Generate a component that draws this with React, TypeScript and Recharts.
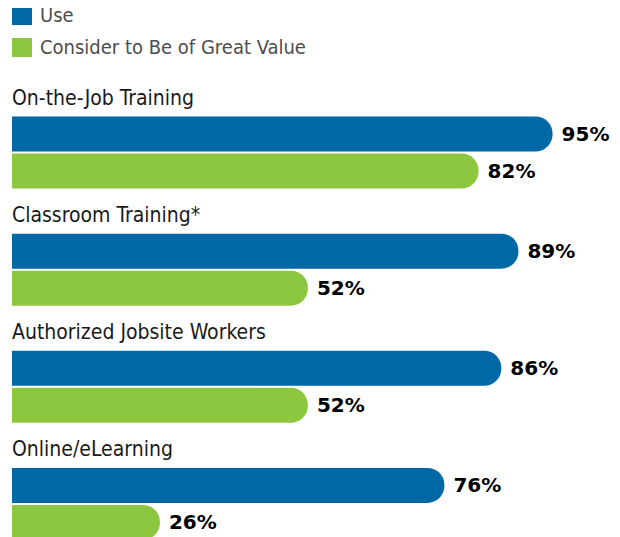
import { BarChart, Bar, XAxis, YAxis, LabelList } from 'recharts'

const categories = ['On-the-Job Training', 'Classroom Training*', 'Authorized Jobsite Workers', 'Online/eLearning']
const useValues = [95, 89, 86, 76]
const valueValues = [82, 52, 52, 26]
const seriesNames = ['Use', 'Consider to Be of Great Value']

const BLUE = '#0068a4'
const GREEN = '#8dc63f'
const NARROW = '"Liberation Sans Narrow", "DejaVu Sans Condensed", "Liberation Sans", sans-serif'

const data = categories.map((name, i) => ({
  name,
  use: useValues[i],
  value: valueValues[i],
}))

const CategoryLabel = (props: any) => {
  const { y, value } = props
  return (
    <text x={4} y={y - 18} dominantBaseline="middle" fontFamily={NARROW} fontSize={21} fill="#1a1a1a">
      {value}
    </text>
  )
}

export default function App() {
  return (
    <div style={{ position: 'relative', width: 612, height: 529 }}>
      <div style={{ position: 'absolute', left: 4, top: -9, fontFamily: NARROW, fontSize: 20, color: '#4d4d4d', zIndex: 1 }}>
        {seriesNames.map((s, i) => (
          <div key={s} style={{ display: 'flex', alignItems: 'center', height: 32 }}>
            <span style={{ display: 'inline-block', width: 20, height: 19, background: i === 0 ? BLUE : GREEN, marginRight: 8 }} />
            {s}
          </div>
        ))}
      </div>
      <BarChart
        width={612}
        height={554}
        data={data}
        layout="vertical"
        margin={{ top: 85.5, right: 39, left: 4, bottom: 0 }}
        barSize={35}
        barGap={2}
        style={{ position: 'absolute', top: 0, left: 0 }}
      >
        <XAxis type="number" domain={[0, 100]} hide />
        <YAxis type="category" dataKey="name" hide />
        <Bar dataKey="use" fill={BLUE} radius={[0, 17, 17, 0]} isAnimationActive={false}>
          <LabelList dataKey="name" content={CategoryLabel} />
          <LabelList
            dataKey="use"
            position="right"
            offset={9}
            formatter={(v: any) => `${v}%`}
            style={{ fontFamily: '"DejaVu Sans", sans-serif', fontWeight: 700, fontSize: 20, fill: '#000' }}
          />
        </Bar>
        <Bar dataKey="value" fill={GREEN} radius={[0, 17, 17, 0]} isAnimationActive={false}>
          <LabelList
            dataKey="value"
            position="right"
            offset={9}
            formatter={(v: any) => `${v}%`}
            style={{ fontFamily: '"DejaVu Sans", sans-serif', fontWeight: 700, fontSize: 20, fill: '#000' }}
          />
        </Bar>
      </BarChart>
    </div>
  )
}
